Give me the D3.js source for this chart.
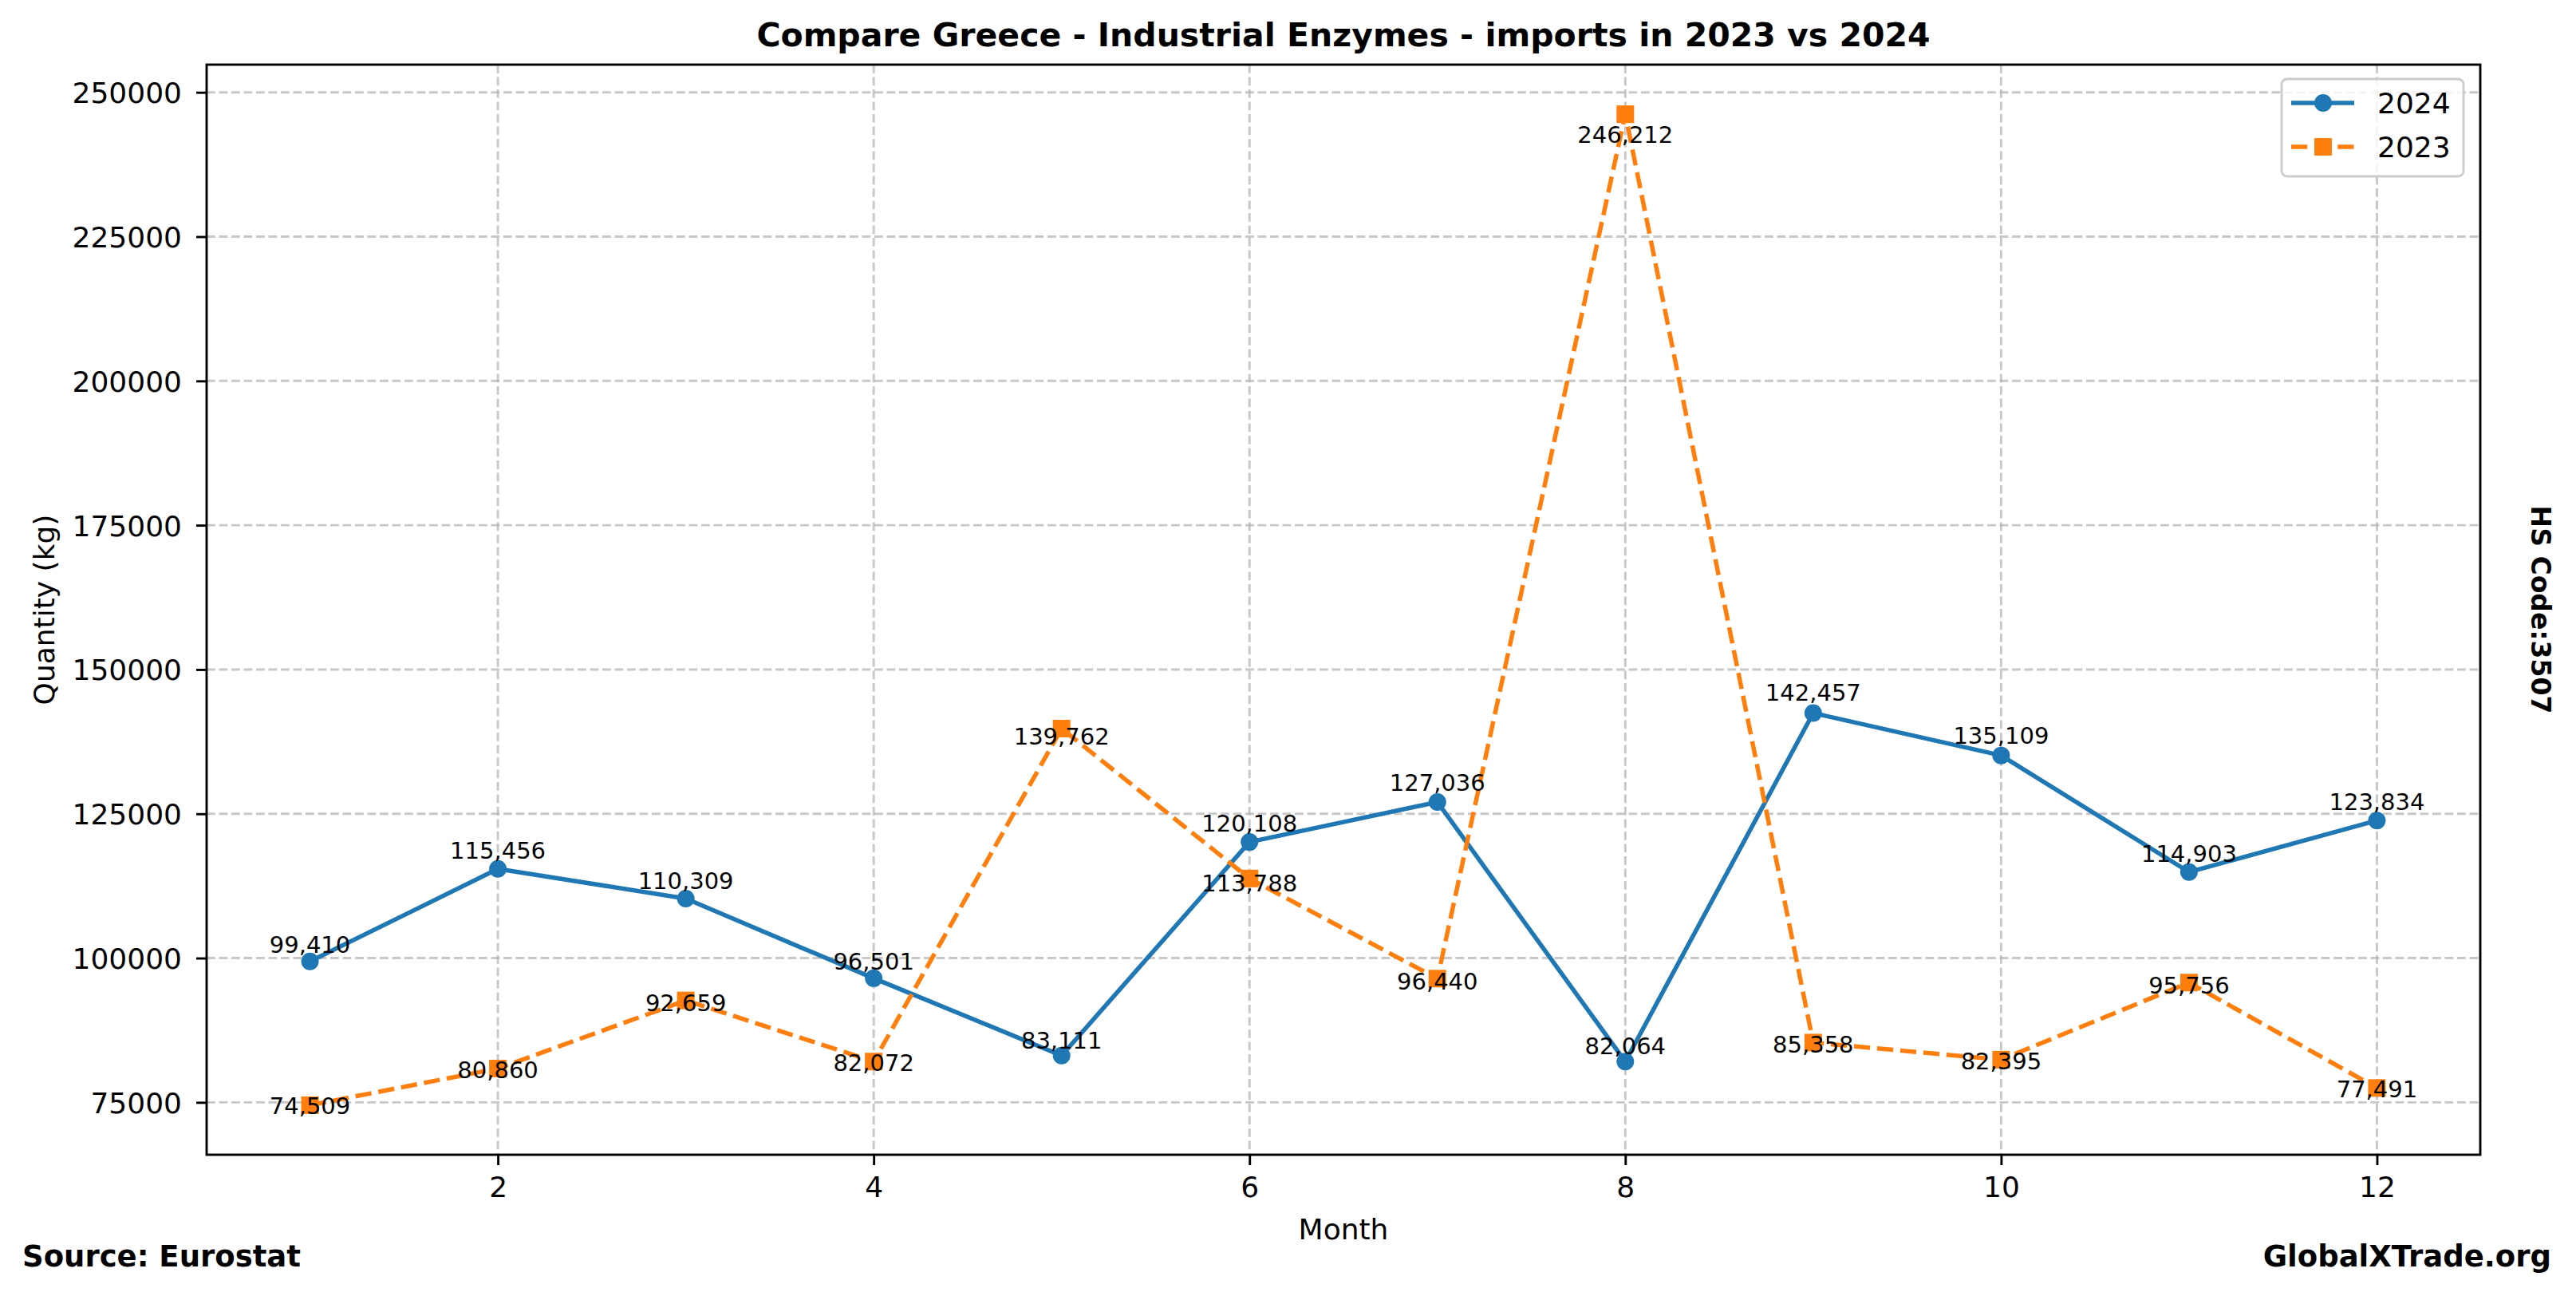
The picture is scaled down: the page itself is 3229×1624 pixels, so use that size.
<!DOCTYPE html>
<html>
<head>
<meta charset="utf-8">
<script src="https://cdn.jsdelivr.net/npm/d3@7"></script>
<style>
  body { margin: 0; background: #fff; }
  svg { display: block; font-family: 'DejaVu Sans', sans-serif; }
</style>
</head>
<body>
<svg></svg>
<script>
const months = [1, 2, 3, 4, 5, 6, 7, 8, 9, 10, 11, 12];
const values2024 = [99410, 115456, 110309, 96501, 83111, 120108, 127036, 82064, 142457, 135109, 114903, 123834];
const values2023 = [74509, 80860, 92659, 82072, 139762, 113788, 96440, 246212, 85358, 82395, 95756, 77491];
const xTicks = [2, 4, 6, 8, 10, 12];
const yTicks = [75000, 100000, 125000, 150000, 175000, 200000, 225000, 250000];

const width = 3229;
const height = 1624;
const margin = { top: 81, right: 120, bottom: 177, left: 259 };
const graphWidth = width - margin.left - margin.right;
const graphHeight = height - margin.top - margin.bottom;

const blue = '#1f77b4';
const orange = '#ff7f0e';

const svg = d3.select('svg').attr('width', width).attr('height', height);
svg.append('rect').attr('width', width).attr('height', height).attr('fill', '#fff');

// matplotlib style 5% margins
const allValues = values2024.concat(values2023);
const yMin = d3.min(allValues);
const yMax = d3.max(allValues);
const yPad = (yMax - yMin) * 0.05;
const xPad = (d3.max(months) - d3.min(months)) * 0.05;

const xScale = d3
  .scaleLinear()
  .domain([d3.min(months) - xPad, d3.max(months) + xPad])
  .range([0, graphWidth]);

const yScale = d3
  .scaleLinear()
  .domain([yMin - yPad, yMax + yPad])
  .range([graphHeight, 0]);

const graph = svg
  .append('g')
  .attr('transform', `translate(${margin.left}, ${margin.top})`);

// grid
graph
  .selectAll('.hgrid')
  .data(yTicks)
  .enter()
  .append('line')
  .attr('x1', 0)
  .attr('x2', graphWidth)
  .attr('y1', d => yScale(d))
  .attr('y2', d => yScale(d))
  .attr('stroke', '#b0b0b0')
  .attr('stroke-opacity', 0.7)
  .attr('stroke-width', 2.9)
  .attr('stroke-dasharray', '10.8,4.7');

graph
  .selectAll('.vgrid')
  .data(xTicks)
  .enter()
  .append('line')
  .attr('x1', d => xScale(d))
  .attr('x2', d => xScale(d))
  .attr('y1', 0)
  .attr('y2', graphHeight)
  .attr('stroke', '#b0b0b0')
  .attr('stroke-opacity', 0.7)
  .attr('stroke-width', 2.9)
  .attr('stroke-dasharray', '10.8,4.7');

// axes
const xAxis = d3.axisBottom(xScale).tickValues(xTicks).tickSize(13).tickFormat(d3.format('d'));
const xg = graph
  .append('g')
  .attr('transform', `translate(0, ${graphHeight})`)
  .call(xAxis);
xg.select('.domain').remove();
xg.selectAll('line').attr('stroke-width', 2.9);
xg.selectAll('text')
  .attr('y', 53)
  .attr('dy', 0)
  .attr('font-size', 36)
  .attr('font-family', 'DejaVu Sans')
  .attr('fill', '#000');

const yAxis = d3.axisLeft(yScale).tickValues(yTicks).tickSize(13).tickFormat(d3.format('d'));
const yg = graph.append('g').call(yAxis);
yg.select('.domain').remove();
yg.selectAll('line').attr('stroke-width', 2.9);
yg.selectAll('text')
  .attr('x', -31)
  .attr('dy', '0.36em')
  .attr('font-size', 36)
  .attr('font-family', 'DejaVu Sans')
  .attr('fill', '#000');

// lines
const line = values =>
  d3
    .line()
    .x((d, i) => xScale(months[i]))
    .y(d => yScale(d))(values);

graph
  .append('path')
  .attr('d', line(values2024))
  .attr('fill', 'none')
  .attr('stroke', blue)
  .attr('stroke-width', 5.5)
  .attr('stroke-linejoin', 'round');

graph
  .selectAll('.dot24')
  .data(values2024)
  .enter()
  .append('circle')
  .attr('cx', (d, i) => xScale(months[i]))
  .attr('cy', d => yScale(d))
  .attr('r', 11)
  .attr('fill', blue);

graph
  .append('path')
  .attr('d', line(values2023))
  .attr('fill', 'none')
  .attr('stroke', orange)
  .attr('stroke-width', 5.5)
  .attr('stroke-dasharray', '20.3,8.8');

graph
  .selectAll('.sq23')
  .data(values2023)
  .enter()
  .append('rect')
  .attr('x', (d, i) => xScale(months[i]) - 11)
  .attr('y', d => yScale(d) - 11)
  .attr('width', 22)
  .attr('height', 22)
  .attr('fill', orange);

// value labels
const fmt = d3.format(',');
graph
  .selectAll('.lab24')
  .data(values2024)
  .enter()
  .append('text')
  .text(d => fmt(d))
  .attr('x', (d, i) => xScale(months[i]))
  .attr('y', d => yScale(d * 1.015))
  .attr('text-anchor', 'middle')
  .attr('font-size', 29);

graph
  .selectAll('.lab23')
  .data(values2023)
  .enter()
  .append('text')
  .text(d => fmt(d))
  .attr('x', (d, i) => xScale(months[i]))
  .attr('y', d => yScale(d * 0.98))
  .attr('text-anchor', 'middle')
  .attr('font-size', 29);

// frame
graph
  .append('rect')
  .attr('width', graphWidth)
  .attr('height', graphHeight)
  .attr('fill', 'none')
  .attr('stroke', '#000')
  .attr('stroke-width', 2.9);

// legend
const legend = svg.append('g').attr('transform', 'translate(2860, 99)');
legend
  .append('rect')
  .attr('width', 228)
  .attr('height', 122)
  .attr('rx', 7)
  .attr('fill', '#fff')
  .attr('fill-opacity', 0.8)
  .attr('stroke', '#cccccc')
  .attr('stroke-width', 2.9);

legend
  .append('line')
  .attr('x1', 12)
  .attr('x2', 91)
  .attr('y1', 30)
  .attr('y2', 30)
  .attr('stroke', blue)
  .attr('stroke-width', 5.5);
legend.append('circle').attr('cx', 52).attr('cy', 30).attr('r', 11).attr('fill', blue);
legend
  .append('text')
  .text('2024')
  .attr('x', 120)
  .attr('y', 43)
  .attr('font-size', 36);

legend
  .append('line')
  .attr('x1', 12)
  .attr('x2', 91)
  .attr('y1', 85)
  .attr('y2', 85)
  .attr('stroke', orange)
  .attr('stroke-width', 5.5)
  .attr('stroke-dasharray', '20.3,8.8');
legend.append('rect').attr('x', 41).attr('y', 74).attr('width', 22).attr('height', 22).attr('fill', orange);
legend
  .append('text')
  .text('2023')
  .attr('x', 120)
  .attr('y', 98)
  .attr('font-size', 36);

// titles and notes
svg
  .append('text')
  .text('Compare Greece - Industrial Enzymes - imports in 2023 vs 2024')
  .attr('x', margin.left + graphWidth / 2)
  .attr('y', 58)
  .attr('text-anchor', 'middle')
  .attr('font-size', 41)
  .attr('font-weight', 'bold');

svg
  .append('text')
  .text('Month')
  .attr('x', margin.left + graphWidth / 2)
  .attr('y', 1553)
  .attr('text-anchor', 'middle')
  .attr('font-size', 36);

svg
  .append('text')
  .text('Quantity (kg)')
  .attr('transform', `translate(68, ${margin.top + graphHeight / 2}) rotate(-90)`)
  .attr('text-anchor', 'middle')
  .attr('font-size', 36);

svg
  .append('text')
  .text('HS Code:3507')
  .attr('transform', `translate(3173, ${margin.top + graphHeight / 2}) rotate(90)`)
  .attr('text-anchor', 'middle')
  .attr('font-size', 33)
  .attr('font-weight', 'bold');

svg
  .append('text')
  .text('Source: Eurostat')
  .attr('x', 28)
  .attr('y', 1587)
  .attr('font-size', 37)
  .attr('font-weight', 'bold');

svg
  .append('text')
  .text('GlobalXTrade.org')
  .attr('x', 3198)
  .attr('y', 1587)
  .attr('text-anchor', 'end')
  .attr('font-size', 37)
  .attr('font-weight', 'bold');
</script>
</body>
</html>
